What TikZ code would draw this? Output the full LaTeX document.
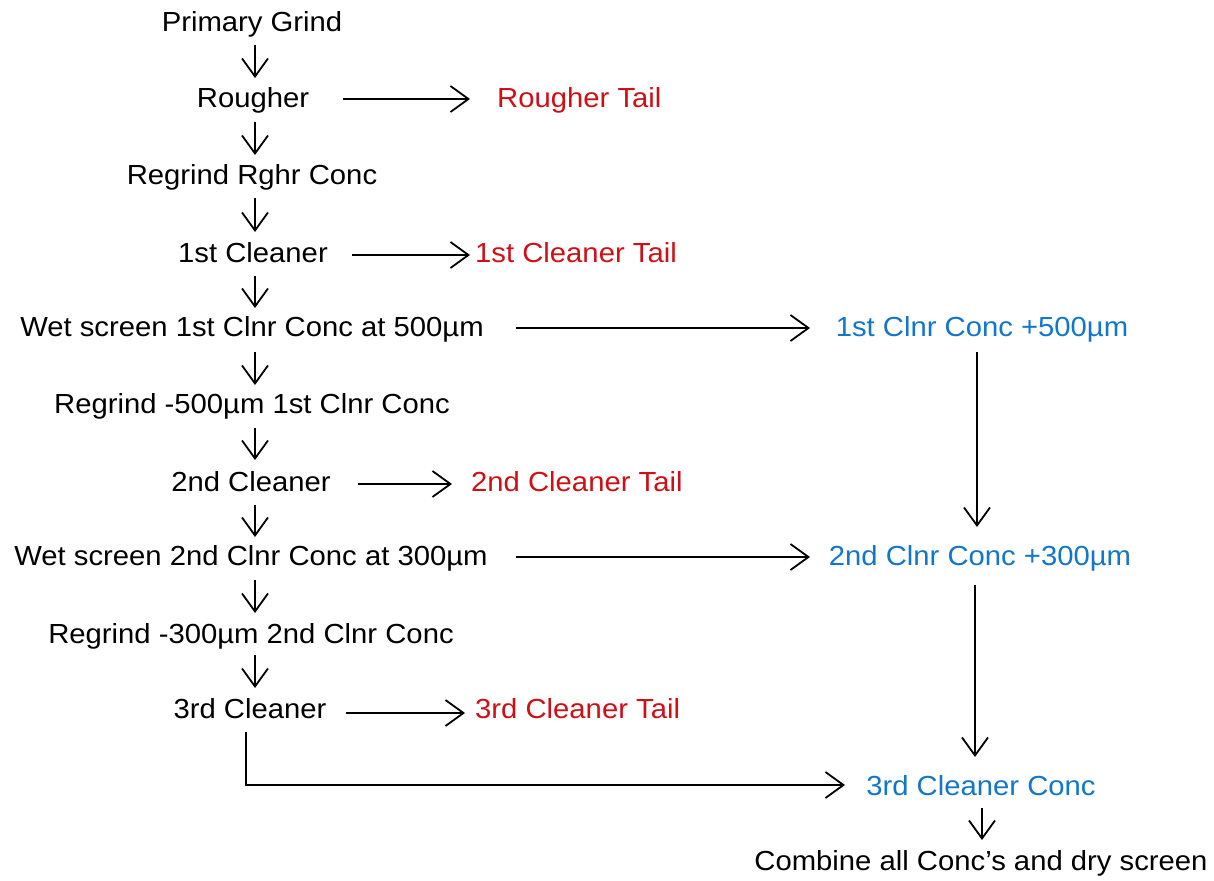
\documentclass[tikz,border=0pt]{standalone}
\usepackage{fontspec}
\setmainfont{Liberation Sans}[FakeStretch=1.06]
\usetikzlibrary{arrows.meta,calc}
\definecolor{tailred}{RGB}{204,16,22}
\definecolor{concblue}{RGB}{20,118,200}
\begin{document}
\begin{tikzpicture}[x=1pt,y=-1pt,
  txt/.style={inner sep=0pt, anchor=base, font=\fontsize{27.6}{33}\selectfont},
  tail/.style={txt, anchor=base west, text=tailred},
  conc/.style={txt, text=concblue},
  arr/.style={line width=1.8pt, -{Straight Barb[length=18pt,width=26pt]}}]
\useasboundingbox (0,0) rectangle (1214,880);
\coordinate (ax) at (255,0);
% left column
\node[txt] (pg)    at (252,32)  {Primary Grind};
\node[txt] (rough) at (253,108) {Rougher};
\node[txt] (regr)  at (252,184) {Regrind Rghr Conc};
\node[txt] (c1)    at (253,262) {1st Cleaner};
\node[txt] (ws1)   at (252,336) {Wet screen 1st Clnr Conc at 500µm};
\node[txt] (rg5)   at (252,413) {Regrind -500µm 1st Clnr Conc};
\node[txt] (c2)    at (251,491) {2nd Cleaner};
\node[txt] (ws2)   at (251,565) {Wet screen 2nd Clnr Conc at 300µm};
\node[txt] (rg3)   at (251,643) {Regrind -300µm 2nd Clnr Conc};
\node[txt] (c3)    at (250,718) {3rd Cleaner};
% tails
\node[tail] (rt) at (497,108) {Rougher Tail};
\node[tail] (t1) at (475,262) {1st Cleaner Tail};
\node[tail] (t2) at (471,491) {2nd Cleaner Tail};
\node[tail] (t3) at (475,718) {3rd Cleaner Tail};
% concentrates
\node[conc] (b1) at (982,336) {1st Clnr Conc +500µm};
\node[conc] (b2) at (980,565) {2nd Clnr Conc +300µm};
\node[conc] (b3) at (981,795) {3rd Cleaner Conc};
\node[txt]  (comb) at (981,870) {Combine all Conc's and dry screen};
% vertical arrows, left column
\draw[arr] ($(pg.base -| ax)+(0,13)$)    -- ($(rough.base -| ax)+(0,-30)$);
\draw[arr] ($(rough.base -| ax)+(0,14)$) -- ($(regr.base -| ax)+(0,-29)$);
\draw[arr] ($(regr.base -| ax)+(0,14)$)  -- ($(c1.base -| ax)+(0,-30)$);
\draw[arr] ($(c1.base -| ax)+(0,14)$)    -- ($(ws1.base -| ax)+(0,-28)$);
\draw[arr] ($(ws1.base -| ax)+(0,16)$)   -- ($(rg5.base -| ax)+(0,-28)$);
\draw[arr] ($(rg5.base -| ax)+(0,15)$)   -- ($(c2.base -| ax)+(0,-31)$);
\draw[arr] ($(c2.base -| ax)+(0,14)$)    -- ($(ws2.base -| ax)+(0,-28)$);
\draw[arr] ($(ws2.base -| ax)+(0,15)$)   -- ($(rg3.base -| ax)+(0,-30)$);
\draw[arr] ($(rg3.base -| ax)+(0,12)$)   -- ($(c3.base -| ax)+(0,-30)$);
% horizontal arrows to tails
\draw[arr] ($(rough.base)+(90,-9)$) -- ($(rt.base west)+(-27,-9)$);
\draw[arr] ($(c1.base)+(99,-7)$)    -- ($(t1.base west)+(-5,-7)$);
\draw[arr] ($(c2.base)+(107,-7)$)   -- ($(t2.base west)+(-19,-7)$);
\draw[arr] ($(c3.base)+(96,-5)$)    -- ($(t3.base west)+(-10,-5)$);
% horizontal arrows to concentrates
\draw[arr] ($(ws1.base)+(264,-8)$) -- ($(b1.base)+(-172,-8)$);
\draw[arr] ($(ws2.base)+(265,-8)$) -- ($(b2.base)+(-170,-8)$);
% elbow from 3rd cleaner
\draw[arr] ($(c3.base)+(-4,14)$) |- ($(b3.base)+(-136,-10)$);
% right column
\draw[arr] ($(b1.base)+(-5,16)$) -- ($(b2.base)+(-3,-38)$);
\draw[arr] ($(b2.base)+(-5,20)$) -- ($(b3.base)+(-6,-38)$);
\draw[arr] ($(b3.base)+(1,13)$)  -- ($(comb.base)+(1,-30)$);
\end{tikzpicture}
\end{document}
